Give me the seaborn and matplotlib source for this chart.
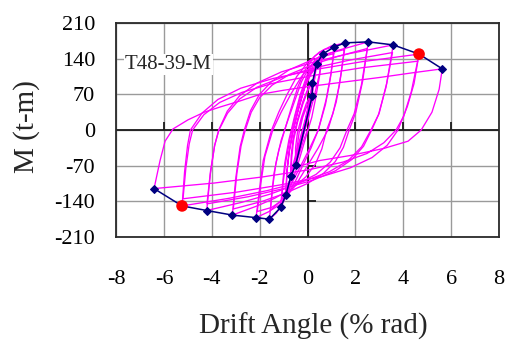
import matplotlib
matplotlib.use("Agg")
import matplotlib.pyplot as plt
import pandas as pd
import seaborn as sns

# ---------------- data ----------------
x_ticks = [-8, -6, -4, -2, 0, 2, 4, 6, 8]
y_ticks = [-210, -140, -70, 0, 70, 140, 210]
specimen = "T48-39-M"

# hysteresis history, cycle by cycle (drift % rad, moment t-m)
A_x = [0, -0.2, -0.35, -0.49, -0.45, -0.35, -0.2, 0.0, 0.2,
       0.08, -0.1, -0.3, -0.5, -0.5, -0.42, -0.25, -0.05, 0.15]
A_y = [0, -25, -48, -68, -40, -5, 25, 50, 67,
       40, 5, -30, -62, -35, -5, 25, 52, 70]
B_x = [0.15, 0.05, -0.15, -0.35, -0.55, -0.69, -0.66, -0.58, -0.42, -0.2, 0.02, 0.2,
       0.1, -0.1, -0.3, -0.5, -0.7, -0.68, -0.6, -0.42, -0.2, 0.05, 0.2]
B_y = [70, 45, 5, -30, -65, -90, -55, -20, 15, 50, 78, 92,
       60, 20, -15, -50, -85, -50, -15, 20, 55, 85, 95]
C_x = [0.2, 0.1, -0.1, -0.3, -0.55, -0.75, -0.9, -0.86, -0.78, -0.62, -0.42, -0.15, 0.12, 0.38,
       0.28, 0.12, -0.1, -0.35, -0.6, -0.9, -0.86, -0.75, -0.6, -0.38, -0.1, 0.15, 0.35]
C_y = [95, 60, 15, -20, -65, -100, -127, -85, -45, -5, 35, 80, 112, 129,
       95, 55, 10, -35, -80, -120, -80, -40, 0, 40, 85, 110, 122]
D_x = [0.35, 0.25, 0.1, -0.12, -0.38, -0.68, -0.92, -1.12,
       -1.05, -0.95, -0.78, -0.55, -0.3, 0.0, 0.3, 0.63]
D_y = [122, 85, 45, 0, -45, -95, -130, -152,
       -110, -65, -20, 25, 70, 110, 137, 149]
D2_x = [0.63, 0.5, 0.3, 0.05, -0.2, -0.45, -0.75, -1.0, -1.1,
        -1.02, -0.9, -0.72, -0.5, -0.25, 0.05, 0.35, 0.6]
D2_y = [149, 110, 70, 25, -15, -55, -100, -135, -145,
        -105, -60, -15, 30, 72, 110, 135, 142]
E1_x = [0.6, 0.5, 0.33, 0.18, 0.02, -0.2, -0.45, -0.75, -1.05, -1.3, -1.59,
        -1.5, -1.4, -1.2, -0.95, -0.7, -0.4, -0.1, 0.3, 0.7, 1.12]
E1_y = [142, 105, 60, 25, 0, -35, -75, -115, -145, -163, -175,
        -130, -85, -40, 0, 40, 85, 118, 145, 158, 163]
E2_x = [1.12, 0.98, 0.78, 0.45, 0.15, -0.2, -0.55, -0.9, -1.2, -1.55,
        -1.45, -1.32, -1.1, -0.85, -0.55, -0.25, 0.1, 0.55, 1.1]
E2_y = [163, 110, 60, 0, -35, -70, -105, -132, -148, -158,
        -110, -65, -20, 15, 55, 95, 125, 143, 150]
F1_x = [1.1, 0.95, 0.75, 0.45, 0.1, -0.3, -0.7, -1.1, -1.6, -2.15,
        -2.0, -1.85, -1.5, -1.2, -0.85, -0.45, 0.0, 0.5, 1.0, 1.57]
F1_y = [150, 100, 50, 0, -35, -72, -108, -138, -160, -172,
        -115, -60, 0, 35, 70, 105, 132, 153, 165, 171]
F2_x = [1.57, 1.4, 1.2, 0.85, 0.45, 0.0, -0.45, -0.95, -1.5, -2.1,
        -1.95, -1.78, -1.45, -1.1, -0.7, -0.25, 0.25, 0.85, 1.55]
F2_y = [171, 110, 55, 0, -35, -70, -105, -135, -152, -160,
        -105, -52, 0, 35, 70, 105, 132, 150, 158]
G1_x = [1.55, 1.33, 1.06, 0.8, 0.6, 0.33, -0.07, -0.62, -1.37, -2.16, -3.14,
        -2.99, -2.815, -2.64, -2.38, -2.02, -1.5, -0.77, 0.21, 1.25, 2.54]
G1_y = [158, 87, 32, 0, -37, -67, -92, -114, -134, -150, -167,
        -92, -33, 0, 38, 69, 95, 118, 138, 156, 173]
G2_x = [2.54, 2.3, 2.02, 1.74, 1.5, 1.16, 0.67, 0.0, -0.92, -1.89, -3.1,
        -2.95, -2.775, -2.6, -2.35, -1.99, -1.48, -0.76, 0.21, 1.23, 2.5]
G2_y = [173, 95, 35, 0, -34, -62, -85, -105, -124, -140, -155,
        -85, -31, 0, 35, 64, 88, 109, 128, 144, 160]
H1_x = [2.5, 2.25, 1.95, 1.65, 1.36, 0.95, 0.36, -0.46, -1.57, -2.75, -4.21,
        -4.06, -3.885, -3.71, -3.35, -2.84, -2.11, -1.09, 0.3, 1.76, 3.58]
H1_y = [160, 88, 32, 0, -35, -63, -87, -107, -126, -142, -158,
        -87, -32, 0, 37, 67, 92, 114, 134, 150, 167]
H2_x = [3.58, 3.31, 2.995, 2.68, 2.34, 1.85, 1.17, 0.2, -1.1, -2.48, -4.2,
        -4.05, -3.875, -3.7, -3.34, -2.83, -2.11, -1.09, 0.29, 1.74, 3.55]
H2_y = [167, 92, 33, 0, -32, -58, -80, -99, -116, -131, -145,
        -80, -29, 0, 33, 61, 84, 103, 122, 137, 152]
I1_x = [3.55, 3.28, 2.965, 2.65, 2.26, 1.7, 0.91, -0.19, -1.69, -3.27, -5.24,
        -5.135, -5.01, -4.89, -4.41, -3.74, -2.79, -1.45, 0.36, 2.27, 4.66]
I1_y = [152, 84, 30, 0, -33, -60, -82, -101, -119, -134, -149,
        -82, -30, 0, 33, 60, 82, 101, 119, 134, 149]
I2_x = [4.66, 4.45, 4.17, 3.78, 3.33, 2.7, 1.8, 0.55, -1.16, -2.96, -5.2,
        -5.08, -4.94, -4.8, -4.33, -3.67, -2.73, -1.42, 0.37, 2.25, 4.6]
I2_y = [149, 91, 46, 0, -30, -54, -74, -92, -108, -122, -135,
        -74, -27, 0, 30, 54, 74, 92, 108, 122, 135]
J_x = [4.6, 4.33, 4.02, 3.7, 3.19, 2.49, 1.48, 0.06, -1.86, -3.88, -6.41,
       -6.16, -5.95, -5.62, -4.99, -4.31, -3.66, -2.82, -1.98, -1.0, 0.0, 1.5, 3.0, 4.5, 5.63,
       5.5, 5.2, 4.75, 4.2, 3.2, 1.8, 0.5, -0.3]
J_y = [135, 74, 27, 0, -25, -46, -63, -78, -92, -104, -115,
       -60, -22, 2, 20, 35, 45, 57, 70, 78, 85, 94, 103, 113, 120,
       80, 35, 0, -22, -36, -50, -60, -70]

# skeleton (envelope) curve
env_x = [-6.41, -5.24, -4.21, -3.14, -2.15, -1.59, -1.12, -0.90, -0.69, -0.49,
         0.20, 0.20, 0.38, 0.63, 1.12, 1.57, 2.54, 3.58, 4.66, 5.63]
env_y = [-115, -149, -158, -167, -172, -175, -152, -127, -90, -68,
         67, 92, 129, 149, 163, 171, 173, 167, 149, 120]

# marked points
mark_x = [-5.24, 4.66]
mark_y = [-149, 149]

# ---------------- figure ----------------
sns.set_theme(style="white")
plt.rcParams['font.family'] = ['Liberation Serif', 'DejaVu Serif']

W, H = 513, 343
fig = plt.figure(figsize=(W / 100, H / 100), dpi=100)
ax = fig.add_axes([116 / W, 1 - 237 / H, 383 / W, 214 / H])

loops = [(A_x, A_y), (B_x, B_y), (C_x, C_y), (D_x, D_y), (D2_x, D2_y),
         (E1_x, E1_y), (E2_x, E2_y), (F1_x, F1_y), (F2_x, F2_y),
         (G1_x, G1_y), (G2_x, G2_y), (H1_x, H1_y), (H2_x, H2_y),
         (I1_x, I1_y), (I2_x, I2_y), (J_x, J_y)]
frames = []
for i, (xs, ys) in enumerate(loops):
    frames.append(pd.DataFrame({"drift": xs, "moment": ys, "seg": i}))
df = pd.concat(frames, ignore_index=True)

ax.set_axisbelow(True)
ax.grid(True, color="#9a9a9a", lw=1.0)
ax.axhline(0, color="#1a1a1a", lw=1.3, zorder=1.5)
ax.axvline(0, color="#1a1a1a", lw=1.3, zorder=1.5)
ax.plot(x_ticks[1:-1], [0] * (len(x_ticks) - 2), ls="none", marker=2, ms=5.5,
        mew=1.3, color="#1a1a1a", zorder=1.6)
ax.plot([0] * (len(y_ticks) - 2), y_ticks[1:-1], ls="none", marker=1, ms=5.5,
        mew=1.3, color="#1a1a1a", zorder=1.6)

sns.lineplot(data=df, x="drift", y="moment", units="seg", estimator=None,
             sort=False, color="#FF00FF", lw=0.95, ax=ax, zorder=3)
sns.lineplot(x=env_x, y=env_y, sort=False, estimator=None, color="#000080",
             lw=1.1, marker="D", markersize=4.2, markeredgecolor="#000080",
             ax=ax, zorder=4)
sns.scatterplot(x=mark_x, y=mark_y, color="#FF0000", s=70, edgecolor="none",
                ax=ax, zorder=5)

ax.set_xlim(-8, 8)
ax.set_ylim(-210, 210)
ax.set_xticks(x_ticks)
ax.set_yticks(y_ticks)
ax.set_xticklabels([str(v) for v in x_ticks])
ax.set_yticklabels([str(v) for v in y_ticks])
ax.tick_params(axis="both", length=0, labelsize=16, colors="black")
ax.tick_params(axis="x", pad=24)
ax.tick_params(axis="y", pad=15)
ax.set_xlabel("")
ax.set_ylabel("")
for s in ax.spines.values():
    s.set_color("#2a2a2a")
    s.set_linewidth(1.3)
    s.set_visible(True)

ax.text(-7.62, 119, specimen, fontsize=15, ha="left", va="baseline", zorder=6,
        bbox=dict(boxstyle="square,pad=0.05", fc="white", ec="none"))

fig.text(313 / W, 1 - 334 / H, "Drift Angle (% rad)", fontsize=21,
         ha="center", va="baseline")
fig.text(27 / W, 1 - 126.5 / H, "M (t-m)", fontsize=21, rotation=90,
         ha="center", va="center")

fig.savefig("out.png", dpi=100)
